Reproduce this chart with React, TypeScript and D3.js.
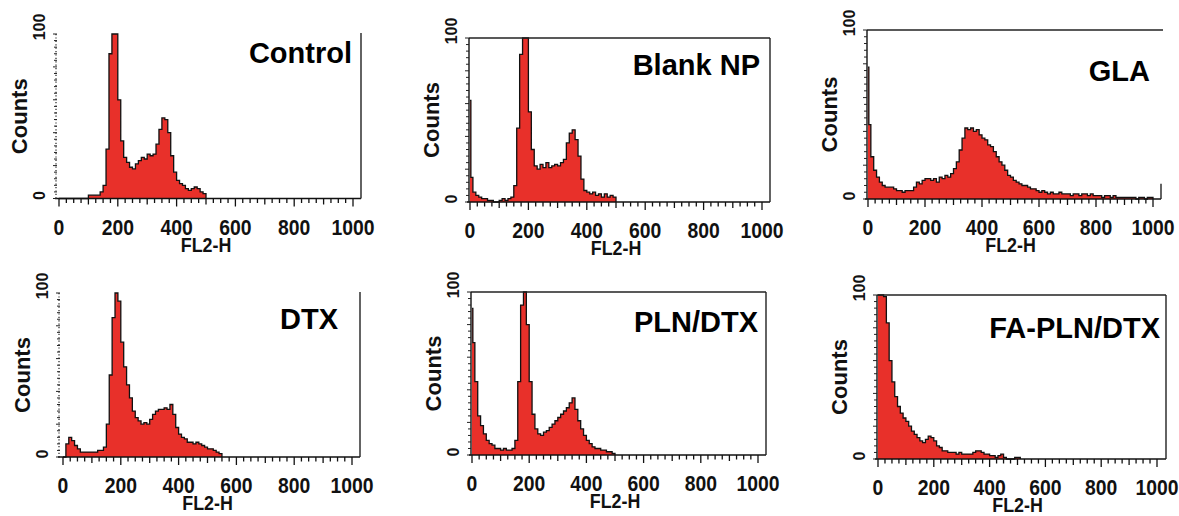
import React from "react";
import * as d3 from "d3";

// ---------------- DATA ----------------
const binWidth = 10; // FL2-H channels per bin

const controlCounts = [
  0, 0, 0, 0, 0, 0, 0, 0, 0, 0,
  2, 2, 2, 2, 4, 8, 30, 88, 100, 100,
  60, 35, 25, 22, 19, 18, 21, 23, 25, 24,
  27, 26, 27, 33, 42, 49, 48, 40, 26, 16,
  11, 9, 8, 6, 5, 6, 7, 6, 4, 3,
];

const blankNpCounts = [
  15, 6, 4, 3, 2, 2, 1, 1, 0, 0,
  1, 2, 1, 2, 3, 10, 45, 90, 100, 100,
  55, 32, 22, 20, 23, 21, 24, 21, 22, 23,
  22, 24, 26, 36, 42, 44, 38, 28, 14, 7,
  6, 5, 6, 4, 5, 3, 5, 3, 4, 3,
];

const glaCounts = [
  44, 25, 17, 13, 10, 8, 7, 7, 7, 6,
  5, 5, 4, 5, 5, 5, 7, 10, 9, 11,
  12, 12, 11, 12, 10, 13, 12, 14, 13, 15,
  18, 22, 29, 36, 42, 41, 42, 40, 41, 38,
  36, 35, 32, 31, 28, 25, 22, 20, 17, 14,
  13, 11, 10, 9, 8, 8, 7, 6, 6, 5,
  4, 5, 4, 3, 4, 3, 3, 4, 3, 3,
  3, 2, 3, 3, 2, 3, 3, 2, 3, 2,
  2, 2, 1, 2, 2, 1, 2, 1, 1, 1,
  1, 1, 1, 1, 0, 1, 1, 0, 1, 1,
];

const dtxCounts = [
  0, 8, 12, 10, 7, 5, 3, 3, 3, 3,
  3, 3, 4, 4, 6, 20, 50, 85, 100, 95,
  70, 55, 44, 36, 28, 24, 22, 20, 21, 20,
  23, 26, 28, 29, 29, 30, 29, 32, 26, 18,
  14, 12, 11, 9, 9, 8, 9, 8, 7, 6,
  5, 5, 4, 3, 2,
];

const plnDtxCounts = [
  69, 45, 24, 18, 13, 9, 7, 6, 4, 4,
  3, 4, 3, 3, 4, 9, 45, 92, 100, 80,
  45, 25, 16, 13, 12, 14, 15, 17, 19, 21,
  23, 25, 27, 29, 32, 35, 28, 21, 16, 12,
  9, 7, 5, 4, 4, 3, 3, 2, 2, 1,
];

const faPlnDtxCounts = [
  100, 100, 99, 83, 60, 47, 38, 32, 28, 25,
  23, 20, 17, 15, 13, 11, 10, 12, 14, 13,
  11, 8, 7, 5, 5, 4, 4, 4, 3, 4,
  3, 3, 3, 3, 4, 5, 5, 4, 3, 3,
  2, 2, 1, 2, 3, 1, 0, 0, 0, 1,
  1,
];

// counts in the very first channel (narrow spike at 0)
const blankNpChannel0 = 62;
const glaChannel0 = 78;
const plnDtxChannel0 = 90;
// off-scale events piled in the last channel (GLA)
const glaLastChannel = 9;

const panelTitles = ["Control", "Blank NP", "GLA", "DTX", "PLN/DTX", "FA-PLN/DTX"];
const panelCounts = [controlCounts, blankNpCounts, glaCounts, dtxCounts, plnDtxCounts, faPlnDtxCounts];
const panelChannel0: (number | null)[] = [null, blankNpChannel0, glaChannel0, null, plnDtxChannel0, null];

const xTickLabels = [0, 200, 400, 600, 800, 1000];
const yTickLabels = [0, 100];
const xAxisLabel = "FL2-H";
const yAxisLabel = "Counts";

// ---------------- LAYOUT ----------------
type Layout = {
  ax: number; x0: number; x1: number; y0: number; y100: number;
  right: number; top: number | null; rightTop: number; topEnd?: number;
  dotted: boolean; titleRight: number; titleY: number;
};

const layouts: Layout[] = [
  { ax: 57, x0: 59, x1: 353, y0: 198.5, y100: 34, right: 361, top: null, rightTop: 33, dotted: true, titleRight: 352, titleY: 53 },
  { ax: 469, x0: 470, x1: 762, y0: 202, y100: 38, right: 770, top: 38, rightTop: 38, dotted: false, titleRight: 760, titleY: 65 },
  { ax: 867, x0: 868, x1: 1153, y0: 199, y100: 30, right: 1161, top: 30, rightTop: 183, topEnd: 1163, dotted: false, titleRight: 1150, titleY: 71 },
  { ax: 60, x0: 63, x1: 352, y0: 457, y100: 293, right: 360, top: null, rightTop: 292, dotted: true, titleRight: 338, titleY: 319 },
  { ax: 471, x0: 472, x1: 758, y0: 455, y100: 292, right: 766, top: 292, rightTop: 292, dotted: false, titleRight: 758, titleY: 322 },
  { ax: 877, x0: 878, x1: 1157, y0: 459, y100: 295, right: 1166, top: 295, rightTop: 295, dotted: false, titleRight: 1160, titleY: 328 },
];

const FILL = "#e8302a";
const FONT = "'Liberation Sans', Arial, Helvetica, sans-serif";

type Pt = { v: number; c: number };

function Panel({ idx }: { idx: number }) {
  const L = layouts[idx];
  const counts = panelCounts[idx];
  const ch0 = panelChannel0[idx];
  const x = d3.scaleLinear().domain([0, 1000]).range([L.x0, L.x1]);
  const y = d3.scaleLinear().domain([0, 100]).range([L.y0, L.y100]).clamp(true);

  const pts: Pt[] = counts.map((c, i) => ({ v: i * binWidth, c }));
  if (ch0 !== null) {
    pts.splice(0, 1, { v: 0, c: ch0 }, { v: 3, c: counts[0] });
  }
  pts.push({ v: counts.length * binWidth, c: 0 });

  const area = d3
    .area<Pt>()
    .x((d) => x(d.v))
    .y0(L.y0)
    .y1((d) => y(d.c))
    .curve(d3.curveStepAfter);
  const line = d3
    .line<Pt>()
    .x((d) => x(d.v))
    .y((d) => y(d.c))
    .curve(d3.curveStepAfter);

  const minorX = d3.range(0, 1001, 25);
  const yTicks = d3.range(0, 101, 4);
  const lastCh = idx === 2 ? glaLastChannel : null;

  return (
    <g>
      <path d={area(pts) || ""} fill={FILL} stroke="none" />
      <path d={line(pts) || ""} fill="none" stroke="#111" strokeWidth={1.3} />

      {/* frame */}
      <line x1={L.ax - 2} x2={L.right} y1={L.y0} y2={L.y0} stroke="#111" strokeWidth={1.6} />
      {L.top !== null && (
        <line x1={L.ax} x2={L.topEnd ?? L.right} y1={L.top} y2={L.top} stroke="#222" strokeWidth={1.4} />
      )}
      <line x1={L.right} x2={L.right} y1={lastCh !== null ? y(lastCh) : L.rightTop} y2={L.y0} stroke="#222" strokeWidth={1.4} />
      {!L.dotted && <line x1={L.ax} x2={L.ax} y1={L.y100} y2={L.y0} stroke="#111" strokeWidth={1.4} />}
      {L.dotted && (
        <line x1={L.ax - 1} x2={L.ax - 1} y1={L.y100} y2={L.y0} stroke="#333" strokeWidth={1.3} strokeDasharray="1.2,2.2" />
      )}

      {/* y ticks */}
      {yTicks.map((t) => (
        <line key={"yt" + t} x1={L.ax - (t % 20 === 0 ? 4 : 3)} x2={L.ax} y1={y(t)} y2={y(t)} stroke="#222" strokeWidth={1} />
      ))}
      {/* x ticks */}
      {minorX.map((t) => (
        <line
          key={"xt" + t}
          x1={x(t)}
          x2={x(t)}
          y1={L.y0}
          y2={L.y0 + (t % 200 === 0 ? 8 : t % 100 === 0 ? 6 : 4.5)}
          stroke="#111"
          strokeWidth={1.3}
        />
      ))}

      {/* x tick labels */}
      {xTickLabels.map((t) => (
        <text
          key={"xl" + t}
          transform={`translate(${x(t)},${L.y0 + 28.5}) scale(0.88,1)`}
          textAnchor="middle"
          dominantBaseline="central"
          fontFamily={FONT}
          fontWeight="bold"
          fontSize={22}
          fill="#111"
        >
          {t}
        </text>
      ))}
      <text
        transform={`translate(${x(500)},${L.y0 + 45.5}) scale(0.85,1)`}
        textAnchor="middle"
        dominantBaseline="central"
        fontFamily={FONT}
        fontWeight="bold"
        fontSize={21}
        fill="#111"
      >
        {xAxisLabel}
      </text>

      {/* y tick labels (rotated) */}
      {yTickLabels.map((t) => (
        <text
          key={"yl" + t}
          transform={`translate(${L.ax - 17.5},${y(t) - (t === 100 ? 7 : 3)}) rotate(-90)`}
          textAnchor="middle"
          dominantBaseline="central"
          fontFamily={FONT}
          fontWeight="bold"
          fontSize={16}
          fill="#111"
        >
          {t}
        </text>
      ))}
      <text
        transform={`translate(${L.ax - 38},${(L.y0 + L.y100) / 2}) rotate(-90)`}
        textAnchor="middle"
        dominantBaseline="central"
        fontFamily={FONT}
        fontWeight="bold"
        fontSize={22}
        fill="#111"
      >
        {yAxisLabel}
      </text>

      {/* title */}
      <text
        x={L.titleRight}
        y={L.titleY}
        textAnchor="end"
        dominantBaseline="central"
        fontFamily={FONT}
        fontWeight="bold"
        fontSize={29}
        fill="#000"
      >
        {panelTitles[idx]}
      </text>
    </g>
  );
}

export default function App() {
  return (
    <svg
      width={1179}
      height={516}
      viewBox="0 0 1179 516"
      style={{ position: "absolute", left: 0, top: 0, background: "#fff" }}
    >
      <rect x={0} y={0} width={1179} height={516} fill="#fff" />
      {panelTitles.map((_, i) => (
        <Panel key={i} idx={i} />
      ))}
    </svg>
  );
}
